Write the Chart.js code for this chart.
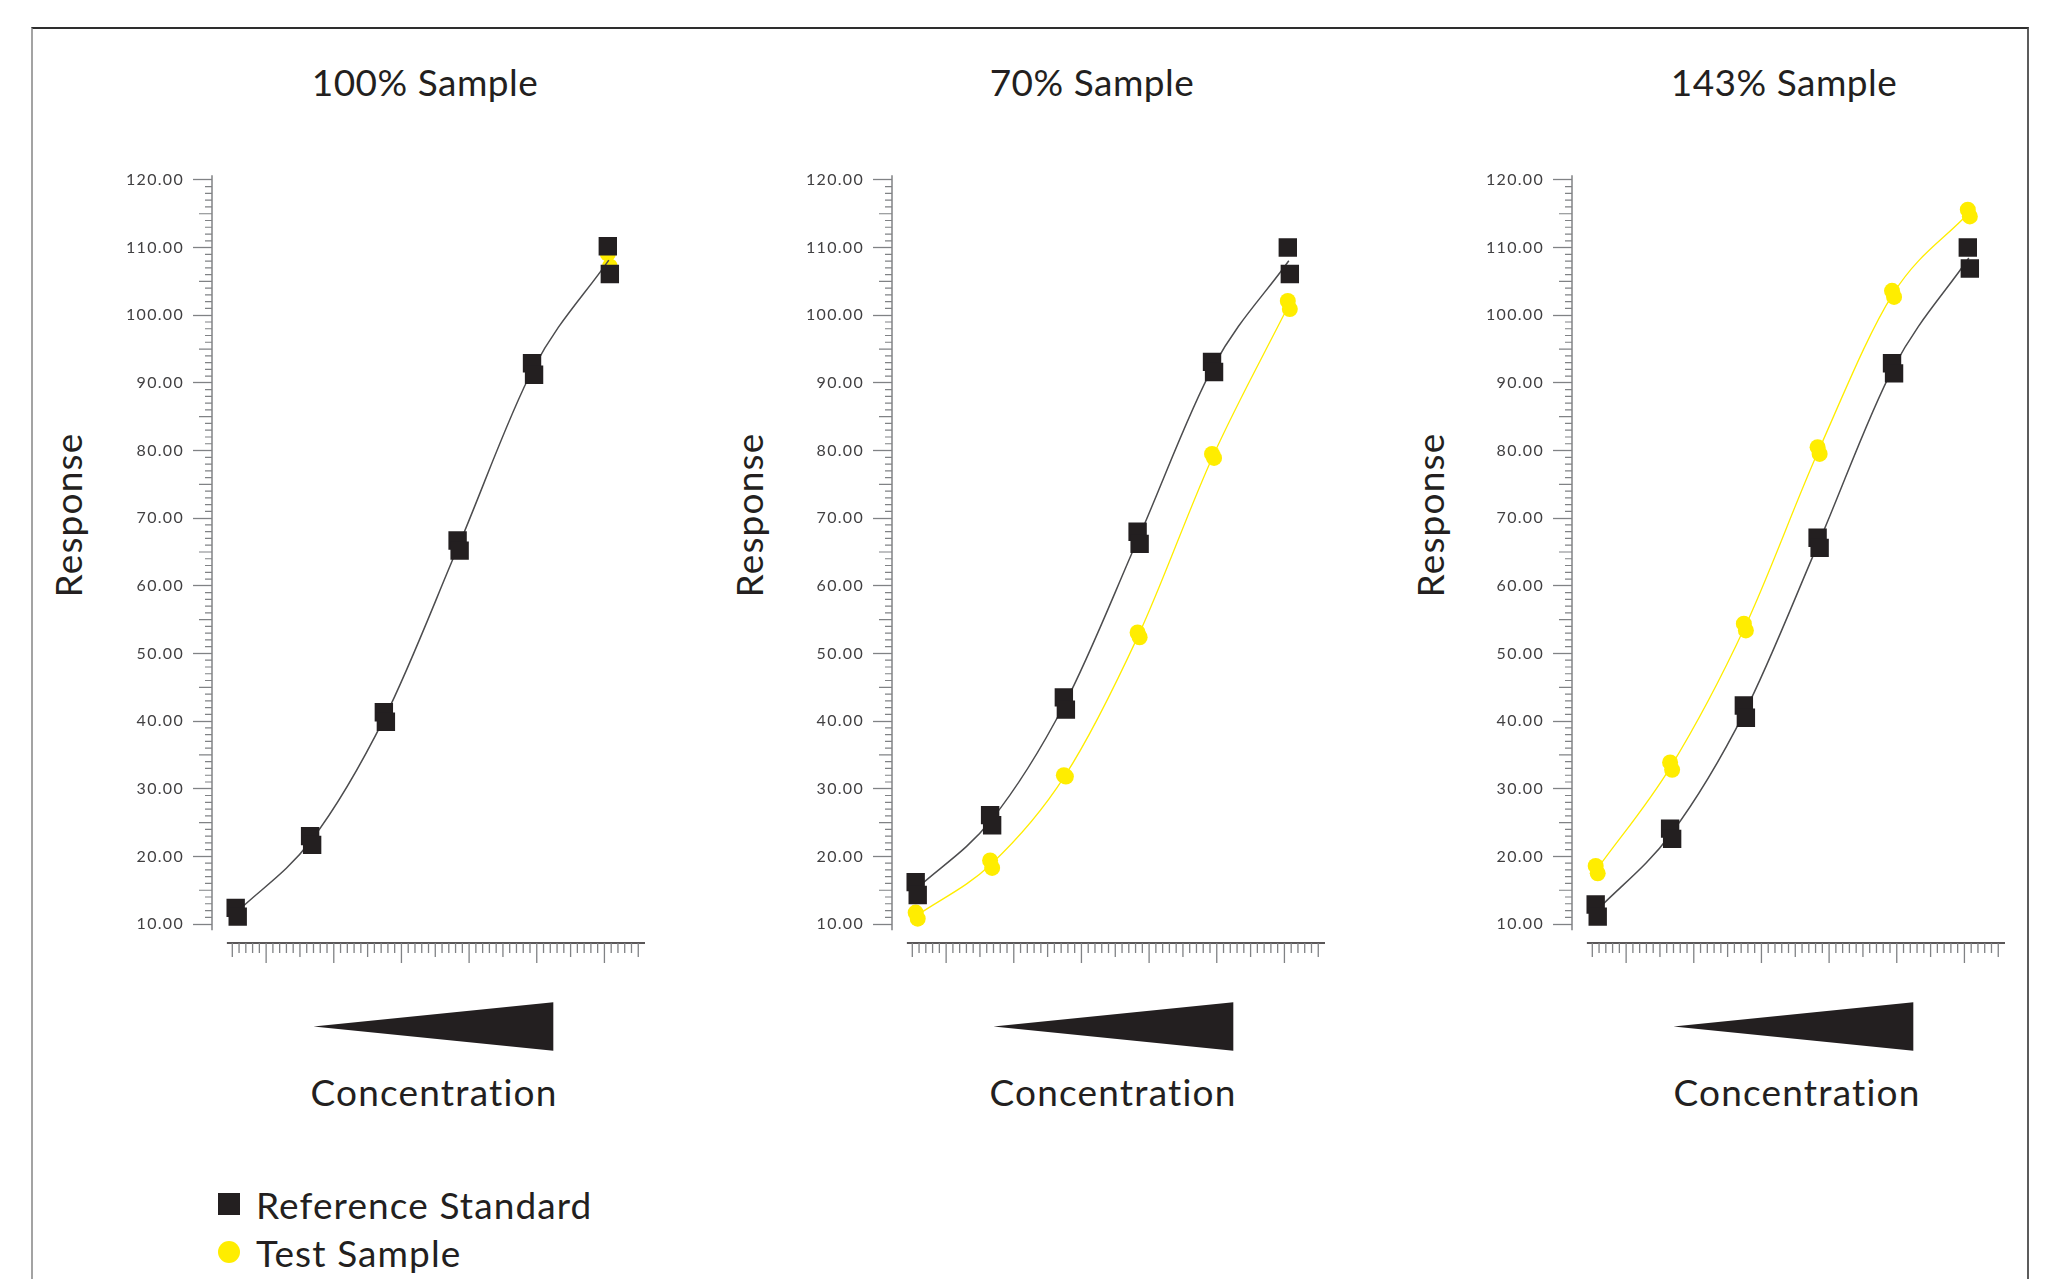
<!DOCTYPE html>
<html lang="en">
<head>
<meta charset="UTF-8">
<title>Parallel line assay</title>
<script src="https://cdn.jsdelivr.net/npm/chart.js"></script>
<style>
  html, body { margin: 0; padding: 0; background: #fff; }
  body { width: 2055px; height: 1279px; position: relative; overflow: hidden; font-family: Lato, sans-serif; color: #231f20; }
  .frame { position: absolute; left: 31px; top: 27px; width: 1998px; height: 1400px; box-sizing: border-box;
           border-top: 2px solid #2e2e2e; border-left: 2px solid #a3a3a3; border-right: 2px solid #5c5c5c; }
  .lbl { position: absolute; transform: translate(-50%, -50%); white-space: nowrap; font-size: 37px; letter-spacing: 1.2px; line-height: 1; }
  .ttl { letter-spacing: 0.5px; }
  .rot { transform: translate(-50%, -50%) rotate(-90deg); }
  canvas { position: absolute; }
  .key { position: absolute; left: 218px; font-size: 37px; letter-spacing: 1.1px; line-height: 1; white-space: nowrap; }
  .key span { position: absolute; left: 38px; top: 50%; transform: translateY(-50%); }
  .sq { width: 22px; height: 22px; background: #231f20; }
  .dot { width: 22px; height: 22px; border-radius: 50%; background: #ffed00; }
</style>
</head>
<body>
<div class="frame"></div>

<div class="lbl ttl" style="left:425px; top:81px">100% Sample</div>
<div class="lbl ttl" style="left:1092px; top:81px">70% Sample</div>
<div class="lbl ttl" style="left:1784px; top:81px">143% Sample</div>

<div class="lbl rot" style="left:67px; top:515px">Response</div>
<div class="lbl rot" style="left:748px; top:515px">Response</div>
<div class="lbl rot" style="left:1429px; top:515px">Response</div>

<div class="lbl" style="left:434px; top:1091px">Concentration</div>
<div class="lbl" style="left:1113px; top:1091px">Concentration</div>
<div class="lbl" style="left:1797px; top:1091px">Concentration</div>

<canvas id="c100" width="607" height="908" style="left:62px; top:150px"></canvas>
<canvas id="c70" width="607" height="908" style="left:742px; top:150px"></canvas>
<canvas id="c143" width="607" height="908" style="left:1422px; top:150px"></canvas>

<div class="key sq" style="top:1193px"><span>Reference Standard</span></div>
<div class="key dot" style="top:1241px"><span>Test Sample</span></div>

<script>
    // dose positions on the concentration axis, second replicate sits slightly right
    const doseX = [5.5, 16.5, 27.4, 38.3, 49.3, 60.5];
    const repShift = 0.3;
    const yTicks = [10, 20, 30, 40, 50, 60, 70, 80, 90, 100, 110, 120];

    // 100% sample (test points sit under the reference squares)
    const ref100a = [12.4, 23.0, 41.3, 66.7, 92.9, 110.2];
    const ref100b = [11.1, 21.7, 39.9, 65.2, 91.2, 106.1];
    const test100a = [12.4, 23.0, 41.3, 66.7, 92.9, 109.1];
    const test100b = [11.1, 21.7, 39.9, 65.2, 91.2, 107.2];

    // 70% sample
    const ref70a = [16.2, 26.1, 43.5, 68.0, 93.1, 110.0];
    const ref70b = [14.3, 24.6, 41.7, 66.2, 91.6, 106.1];
    const test70a = [11.7, 19.4, 32.0, 53.1, 79.5, 102.1];
    const test70b = [10.8, 18.3, 31.8, 52.4, 78.9, 100.9];

    // 143% sample
    const ref143a = [12.9, 24.1, 42.3, 67.1, 92.9, 110.0];
    const ref143b = [11.1, 22.6, 40.5, 65.6, 91.4, 106.9];
    const test143a = [18.6, 33.9, 54.4, 80.5, 103.6, 115.6];
    const test143b = [17.5, 32.8, 53.4, 79.5, 102.7, 114.6];

    const BLACK = '#231f20';
    const YELLOW = '#ffed00';
    const TICK_GREY = '#808285';

    function replicates(a, b) {
        const pts = [];
        doseX.forEach((x, i) => {
            pts.push({ x: x, y: a[i] });
            pts.push({ x: x + repShift, y: b[i] });
        });
        return pts;
    }

    function meanCurve(a, b) {
        return doseX.map((x, i) => ({ x: x + repShift / 2, y: (a[i] + b[i]) / 2 }));
    }

    // minor axis ticks, axis lines and the concentration wedge
    const assayAxes = {
        id: 'assayAxes',
        beforeDraw(chart) {
            chart.ctx.letterSpacing = '1.3px';
        },
        beforeDatasetsDraw(chart) {
            const { ctx, chartArea: a, scales: { x, y } } = chart;
            ctx.save();
            ctx.letterSpacing = '0px';

            ctx.strokeStyle = TICK_GREY;
            ctx.lineWidth = 1.5;
            ctx.beginPath();
            ctx.moveTo(a.left, y.getPixelForValue(120.7));
            ctx.lineTo(a.left, y.getPixelForValue(9.1));
            ctx.stroke();

            ctx.lineWidth = 1.2;
            ctx.beginPath();
            for (let v = 10; v <= 120; v++) {
                if (v % 10 === 0) continue;
                const len = v % 5 === 0 ? 13 : 7;
                const py = y.getPixelForValue(v);
                ctx.moveTo(a.left - len, py);
                ctx.lineTo(a.left, py);
            }
            ctx.stroke();

            ctx.strokeStyle = BLACK;
            ctx.lineWidth = 1.6;
            ctx.beginPath();
            ctx.moveTo(x.getPixelForValue(4.2), a.bottom);
            ctx.lineTo(x.getPixelForValue(66), a.bottom);
            ctx.stroke();

            ctx.strokeStyle = TICK_GREY;
            ctx.lineWidth = 1.3;
            ctx.beginPath();
            for (let v = 5; v <= 65; v++) {
                const len = v % 10 === 0 ? 20 : (v % 5 === 0 ? 14 : 10);
                const px = x.getPixelForValue(v);
                ctx.moveTo(px, a.bottom);
                ctx.lineTo(px, a.bottom + len);
            }
            ctx.stroke();

            // wedge showing rising concentration
            const tip = x.getPixelForValue(17.0);
            const end = x.getPixelForValue(52.45);
            const cy = a.bottom + 83.5;
            ctx.fillStyle = BLACK;
            ctx.beginPath();
            ctx.moveTo(tip, cy);
            ctx.lineTo(end, cy - 24.2);
            ctx.lineTo(end, cy + 24.2);
            ctx.closePath();
            ctx.fill();
            ctx.restore();
        }
    };

    // testFitVisible: in the 100% panel the test curve lies exactly under the reference curve
    function makeChart(id, refA, refB, testA, testB, testFitVisible) {
        return new Chart(document.getElementById(id), {
            type: 'scatter',
            data: {
                datasets: [
                    {
                        label: 'Reference Standard',
                        data: replicates(refA, refB),
                        pointStyle: 'rect',
                        pointRadius: 13,
                        pointHoverRadius: 13,
                        backgroundColor: BLACK,
                        borderWidth: 0
                    },
                    {
                        label: 'Reference fit',
                        data: meanCurve(refA, refB),
                        showLine: true,
                        borderColor: '#4d4d4f',
                        borderWidth: 1.5,
                        pointRadius: 0,
                        pointHoverRadius: 0,
                        cubicInterpolationMode: 'monotone'
                    },
                    {
                        label: 'Test Sample',
                        data: replicates(testA, testB),
                        pointStyle: 'circle',
                        pointRadius: 8,
                        pointHoverRadius: 8,
                        backgroundColor: YELLOW,
                        borderWidth: 0
                    },
                    {
                        label: 'Test fit',
                        data: meanCurve(testA, testB),
                        hidden: !testFitVisible,
                        showLine: true,
                        borderColor: YELLOW,
                        borderWidth: 1.3,
                        pointRadius: 0,
                        pointHoverRadius: 0,
                        cubicInterpolationMode: 'monotone'
                    }
                ]
            },
            options: {
                responsive: false,
                animation: false,
                layout: { padding: { left: 0, top: 24.5, right: 20.6, bottom: 115 } },
                plugins: { legend: { display: false }, tooltip: { enabled: false } },
                scales: {
                    x: { type: 'linear', min: 2, max: 66.5, display: false },
                    y: {
                        min: 7.2,
                        max: 120.8,
                        afterBuildTicks: s => { s.ticks = yTicks.map(v => ({ value: v })); },
                        afterFit: s => { s.width = 150; },
                        border: { display: false },
                        grid: { drawOnChartArea: false, tickLength: 19, tickColor: TICK_GREY, tickWidth: 1.3 },
                        ticks: {
                            padding: 9,
                            color: '#414042',
                            font: { family: 'Lato', size: 16 },
                            callback: v => v.toFixed(2)
                        }
                    }
                }
            },
            plugins: [assayAxes]
        });
    }

    makeChart('c100', ref100a, ref100b, test100a, test100b, false);
    makeChart('c70', ref70a, ref70b, test70a, test70b, true);
    makeChart('c143', ref143a, ref143b, test143a, test143b, true);
</script>
</body>
</html>
